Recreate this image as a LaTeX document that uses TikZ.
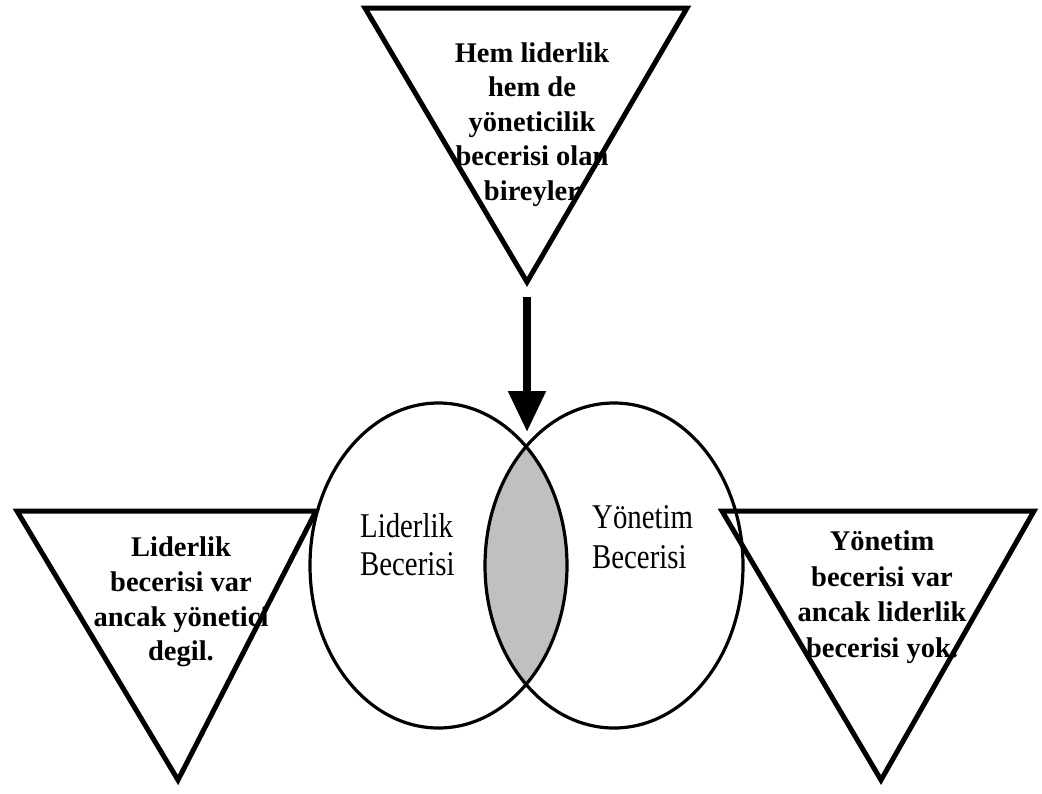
\documentclass[tikz,border=0pt]{standalone}
\usepackage{fontspec}
\setmainfont{Liberation Serif}
\usepackage{graphicx}
\usetikzlibrary{arrows.meta}
\definecolor{lensgray}{RGB}{192,192,192}
\begin{document}
\begin{tikzpicture}[x=1pt,y=-1pt,
  tri/.style={line width=5pt,line join=miter},
  ring/.style={line width=3.2pt},
  tritext/.style={font=\bfseries\fontsize{28.5}{34.6}\selectfont,align=center,inner sep=0pt},
  ringtext/.style={inner sep=0pt,anchor=north west},
  bigarrow/.style={line width=8.3pt,-{Triangle[width=36pt,length=41pt]}}]
\useasboundingbox (0,0) rectangle (1042,793);
% Venn circles
\begin{scope}
  \clip (438.5,565.5) ellipse [x radius=128.5pt, y radius=162.5pt];
  \fill[lensgray] (614,565.5) ellipse [x radius=129pt, y radius=162.5pt];
\end{scope}
\draw[ring] (438.5,565.5) ellipse [x radius=128.5pt, y radius=162.5pt];
\draw[ring] (614,565.5) ellipse [x radius=129pt, y radius=162.5pt];
% triangles
\draw[tri] (365,8) -- (687,8) -- (527,282) -- cycle;
\draw[tri] (17,511) -- (316,511) -- (178,780) -- cycle;
\draw[tri] (722,511) -- (1034,511) -- (881,780) -- cycle;
% texts
\node[tritext] (top) at (532,124.4) {Hem liderlik\\hem de\\yöneticilik\\becerisi olan\\bireyler};
\node[tritext] (left) at (181,602) {Liderlik\\becerisi var\\ancak yönetici\\degil.};
\node[tritext,font=\bfseries\fontsize{28.5}{35.6}\selectfont] (right) at (882,597) {Yönetim\\becerisi var\\ancak liderlik\\becerisi yok.};
\node[ringtext] (lid) at (360,510.4) {\fontsize{34.7}{38}\selectfont\scalebox{0.83}[1]{\begin{tabular}{@{}l@{}}Liderlik\\Becerisi\end{tabular}}};
\node[ringtext] (yon) at (592,500) {\fontsize{34.7}{40}\selectfont\scalebox{0.83}[1]{\begin{tabular}{@{}l@{}}Yönetim\\Becerisi\end{tabular}}};
% arrow
\coordinate (topTip) at (527,297);
\coordinate (lensTop) at (527,432);
\draw[bigarrow] (topTip) -- (lensTop);
\end{tikzpicture}
\end{document}
